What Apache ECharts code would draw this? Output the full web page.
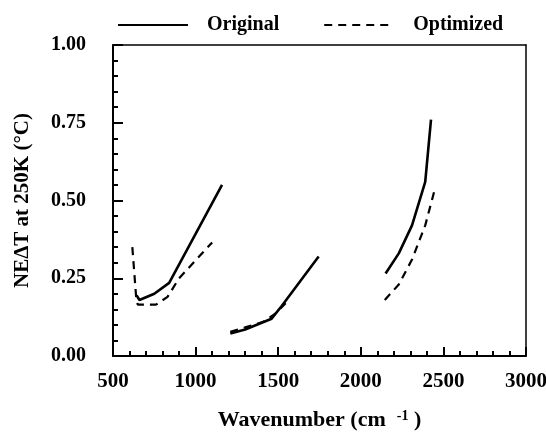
<!DOCTYPE html>
<html>
<head>
<meta charset="utf-8">
<script src="https://cdn.jsdelivr.net/npm/echarts@6/dist/echarts.min.js"></script>
<style>
  html, body { margin: 0; padding: 0; background: #fff; }
  #chart { width: 546px; height: 432px; }
</style>
</head>
<body>
<div id="chart"></div>
<script>
// x ticks, y ticks
const xTicks = [500, 1000, 1500, 2000, 2500, 3000];
const yTicks = [0, 0.25, 0.5, 0.75, 1.0];

// three bands, [wavenumber, NEdT]
const originalBand1 = [[643, 0.195], [660, 0.18], [750, 0.20], [840, 0.235], [1160, 0.55]];
const originalBand2 = [[1210, 0.072], [1300, 0.085], [1460, 0.12], [1520, 0.16], [1745, 0.32]];
const originalBand3 = [[2150, 0.265], [2230, 0.33], [2310, 0.42], [2390, 0.56], [2425, 0.76]];

const optimizedBand1 = [[617, 0.35], [640, 0.19], [650, 0.165], [760, 0.165], [830, 0.19], [900, 0.25], [1100, 0.365]];
const optimizedBand2 = [[1210, 0.078], [1300, 0.092], [1410, 0.11], [1480, 0.135], [1545, 0.17]];
const optimizedBand3 = [[2145, 0.18], [2230, 0.23], [2310, 0.31], [2390, 0.42], [2445, 0.53]];

const font = '"Liberation Serif", "Times New Roman", serif';

function band(name, data, dashed) {
  return {
    name: name,
    type: 'line',
    data: data,
    symbol: 'none',
    silent: true,
    lineStyle: {
      color: '#000',
      width: dashed ? 2.2 : 2.6,
      type: dashed ? [8, 6] : 'solid'
    },
    itemStyle: { color: '#000' }
  };
}

const tickStyle = { color: '#000', width: 2 };

// frame-only axis for the top and right edges
function frameAxis(pos, min, max) {
  return {
    type: 'value', position: pos, min: min, max: max,
    axisLine: { show: true, onZero: false, lineStyle: { color: '#000', width: 1.5 } },
    axisTick: { show: false }, axisLabel: { show: false }, splitLine: { show: false }
  };
}

const chart = echarts.init(document.getElementById('chart'));
chart.setOption({
  animation: false,
  legend: {
    top: 10,
    left: 112,
    itemWidth: 70,
    itemHeight: 10,
    itemGap: 44,
    itemStyle: { opacity: 0 },
    textStyle: { fontFamily: font, fontWeight: 'bold', fontSize: 20, color: '#000', padding: [0, 0, 0, 14] },
    data: ['Original', 'Optimized']
  },
  grid: {
    left: 113, right: 20, top: 45, bottom: 76,
    outerBoundsMode: 'none',
    containLabel: false
  },
  xAxis: [{
    type: 'value',
    position: 'bottom',
    min: xTicks[0],
    max: xTicks[xTicks.length - 1],
    interval: 500,
    name: 'Wavenumber (cm  {sup|-1} )',
    nameLocation: 'middle',
    nameGap: 53,
    nameTextStyle: {
      fontFamily: font, fontWeight: 'bold', fontSize: 22, color: '#000',
      rich: { sup: { fontFamily: font, fontWeight: 'bold', fontSize: 14, verticalAlign: 'top', padding: [0, 0, 9, 0] } }
    },
    axisLine: { show: true, onZero: false, lineStyle: { color: '#000', width: 2 } },
    axisTick: { show: true, inside: true, length: 9, lineStyle: tickStyle },
    minorTick: { show: true, splitNumber: 5, length: 5, lineStyle: tickStyle },
    splitLine: { show: false },
    axisLabel: {
      margin: 15, fontFamily: font, fontWeight: 'bold', fontSize: 21, color: '#000',
      formatter: v => String(v)
    }
  }, frameAxis('top', xTicks[0], xTicks[xTicks.length - 1])],
  yAxis: [{
    type: 'value',
    position: 'left',
    min: yTicks[0],
    max: yTicks[yTicks.length - 1],
    interval: 0.25,
    name: 'NEΔT at 250K (°C)',
    nameLocation: 'middle',
    nameGap: 80,
    nameTextStyle: { fontFamily: font, fontWeight: 'bold', fontSize: 21, color: '#000' },
    axisLine: { show: true, onZero: false, lineStyle: { color: '#000', width: 2 } },
    axisTick: { show: true, inside: true, length: 10, lineStyle: tickStyle },
    minorTick: { show: true, splitNumber: 5, length: 5, lineStyle: tickStyle },
    splitLine: { show: false },
    axisLabel: {
      margin: 27, fontFamily: font, fontWeight: 'bold', fontSize: 20, color: '#000',
      formatter: v => v.toFixed(2)
    }
  }, frameAxis('right', yTicks[0], yTicks[yTicks.length - 1])],
  series: [
    band('Original', originalBand1, false),
    band('Original', originalBand2, false),
    band('Original', originalBand3, false),
    band('Optimized', optimizedBand1, true),
    band('Optimized', optimizedBand2, true),
    band('Optimized', optimizedBand3, true)
  ]
});
</script>
</body>
</html>
